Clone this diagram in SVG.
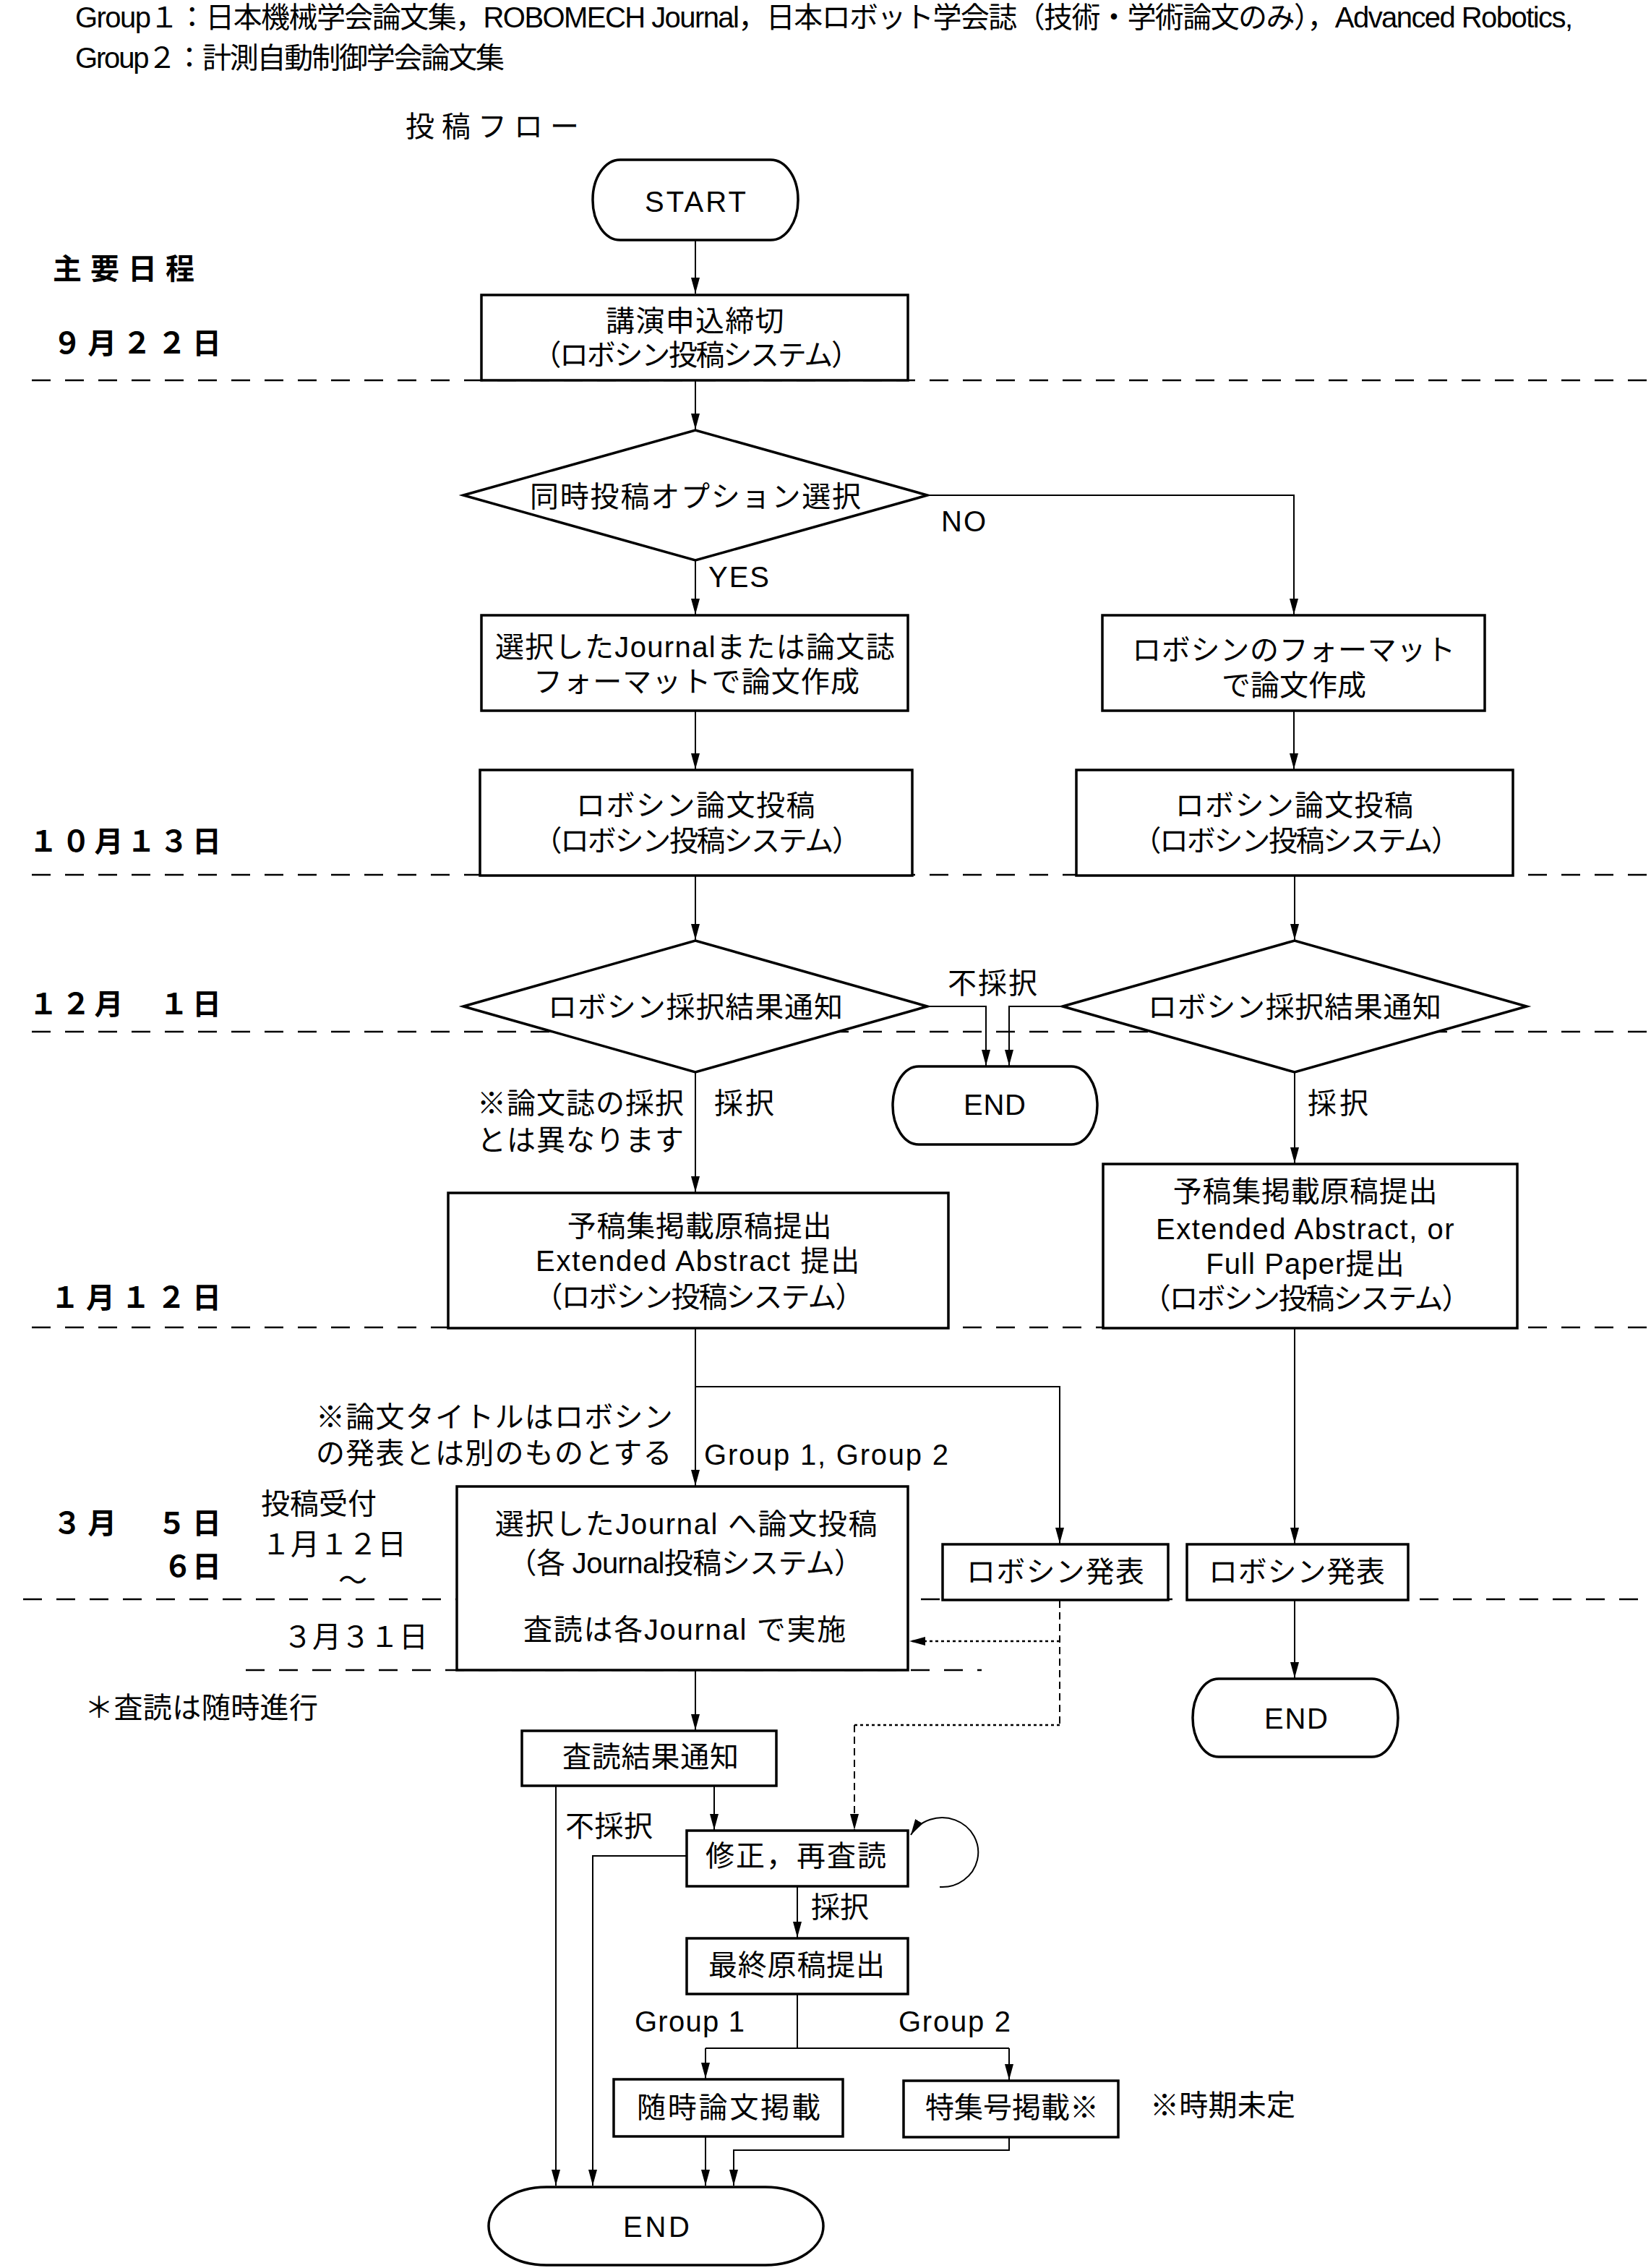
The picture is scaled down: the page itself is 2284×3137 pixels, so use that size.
<svg xmlns="http://www.w3.org/2000/svg" width="2284" height="3137" viewBox="0 0 2284 3137">
<defs>
<marker id="ah" markerUnits="userSpaceOnUse" markerWidth="22" markerHeight="12" viewBox="0 0 22 12" refX="22" refY="6" orient="auto"><path d="M0,0 L22,6 L0,12 z" fill="#000"/></marker>
<style>
.t{font-family:"Liberation Sans","Noto Sans CJK JP",sans-serif;font-size:40px;fill:#000;dominant-baseline:central;text-anchor:middle}
.l{text-anchor:start}
.b{font-weight:bold}
.n{fill:#fff;stroke:#000;stroke-width:3.5}
.c{fill:none;stroke:#000;stroke-width:2}
.a{marker-end:url(#ah)}
.d{fill:none;stroke:#000;stroke-width:2.5;stroke-dasharray:26 20}
.dt{fill:none;stroke:#000;stroke-width:2;stroke-dasharray:10 6}
.dp{fill:none;stroke:#000;stroke-width:2.5;stroke-dasharray:4 4}
</style>
</defs>
<rect x="0" y="0" width="2284" height="3137" fill="#fff"/>

<g id="header">
<text class="t l" x="104" y="24" font-size="34" textLength="2072">Group１：日本機械学会論文集，ROBOMECH Journal，日本ロボット学会誌（技術・学術論文のみ），Advanced Robotics,</text>
<text class="t l" x="104" y="80" font-size="34" textLength="594">Group２：計測自動制御学会論文集</text>
<text class="t" x="681" y="175" font-size="42" textLength="240">投稿フロー</text>
</g>

<g id="schedule">
<path class="d" d="M44 526H2284 M44 1210H2284 M44 1427H2284 M44 1836H2284 M32 2212H2284 M340 2310H1358"/>
<text class="t l b" x="73" y="372" textLength="196">主要日程</text>
<text class="t l b" x="73" y="475" textLength="233">９月２２日</text>
<text class="t l b" x="40" y="1164" textLength="266">１０月１３日</text>
<text class="t l b" x="40" y="1389" textLength="266">１２月　１日</text>
<text class="t l b" x="70" y="1795" textLength="236">１月１２日</text>
<text class="t l b" x="73" y="2107" textLength="233">３月　５日</text>
<text class="t l b" x="226" y="2167" textLength="80">６日</text>
<text class="t l"><tspan x="361" y="2080">投稿受付</tspan><tspan x="362" y="2136">１月１２日</tspan><tspan x="468" y="2186">～</tspan></text>
<text class="t l" x="392" y="2264" textLength="200">３月３１日</text>
<text class="t l" x="117" y="2362" textLength="323">＊査読は随時進行</text>
</g>

<g id="connectors">
<path class="c a" d="M962 332V406"/>
<path class="c a" d="M962 526V594"/>
<path class="c a" d="M962 776V850"/>
<path class="c a" d="M1283 685H1790V850"/>
<path class="c a" d="M962 983V1064"/>
<path class="c a" d="M1790 983V1064"/>
<path class="c a" d="M962 1212V1300"/>
<path class="c a" d="M1791 1212V1300"/>
<path class="c a" d="M1283 1392H1364V1474"/>
<path class="c a" d="M1470 1392H1396V1474"/>
<path class="c a" d="M962 1483V1649"/>
<path class="c a" d="M1791 1483V1609"/>
<path class="c a" d="M962 1838V2055"/>
<path class="c a" d="M962 1918H1466V2135"/>
<path class="c a" d="M1791 1837V2135"/>
<path class="c a" d="M1791 2214V2321"/>
<path class="c a" d="M962 2311V2393"/>
<path class="dt" d="M1466 2214V2386"/>
<path class="dp a" d="M1466 2270H1258"/>
<path class="dp" d="M1466 2386H1182"/>
<path class="dt a" d="M1182 2386V2531"/>
<path class="c a" d="M769 2471V3023"/>
<path class="c a" d="M988 2471V2531"/>
<path class="c a" d="M950 2567H820V3023"/>
<path class="c a" d="M1300 2610 A50 48 0 1 0 1260 2538"/>
<path class="c a" d="M1103 2609V2680"/>
<path class="c" d="M1103 2758V2833 M976 2833H1396"/>
<path class="c a" d="M976 2833V2875"/>
<path class="c a" d="M1396 2833V2877"/>
<path class="c a" d="M976 2955V3023"/>
<path class="c a" d="M1396 2956V2974H1015V3023"/>
<text class="t l" x="1302" y="721" textLength="62">NO</text>
<text class="t l" x="980" y="798" textLength="84">YES</text>
<text class="t" x="1373" y="1360" textLength="124">不採択</text>
<text class="t l"><tspan x="660" y="1526" letter-spacing="1">※論文誌の採択</tspan><tspan x="660" y="1577" letter-spacing="1">とは異なります</tspan></text>
<text class="t l" x="988" y="1526" textLength="83">採択</text>
<text class="t l" x="1809" y="1526" textLength="84">採択</text>
<text class="t l"><tspan x="437" y="1960" letter-spacing="1.25">※論文タイトルはロボシン</tspan><tspan x="437" y="2010" letter-spacing="1.25">の発表とは別のものとする</tspan></text>
<text class="t l" x="974" y="2012" textLength="338">Group 1, Group 2</text>
<text class="t l" x="782" y="2526" textLength="121">不採択</text>
<text class="t l" x="1122" y="2638" textLength="80">採択</text>
<text class="t l" x="878" y="2796" textLength="152">Group 1</text>
<text class="t l" x="1243" y="2796" textLength="155">Group 2</text>
<text class="t l" x="1591" y="2912" textLength="201">※時期未定</text>
</g>

<g id="n_start">
<rect class="n" x="820" y="221" width="284" height="111" rx="38" ry="55"/>
<text class="t" x="962" y="279" font-size="42" textLength="140">START</text>
</g>
<g id="n_apply">
<rect class="n" x="666" y="408" width="590" height="118"/>
<text class="t"><tspan x="962" y="444" letter-spacing="1.3">講演申込締切</tspan><tspan x="962" y="491" letter-spacing="-2.3">（ロボシン投稿システム）</tspan></text>
</g>
<g id="n_option">
<polygon class="n" points="641,685 962,595 1283,685 962,775"/>
<text class="t" x="962" y="687" textLength="458">同時投稿オプション選択</text>
</g>
<g id="n_format_journal">
<rect class="n" x="666" y="851" width="590" height="132"/>
<text class="t"><tspan x="962" y="895" letter-spacing="1.35">選択したJournalまたは論文誌</tspan><tspan x="964" y="943" letter-spacing="1.1">フォーマットで論文作成</tspan></text>
</g>
<g id="n_format_robosym">
<rect class="n" x="1525" y="851" width="529" height="132"/>
<text class="t"><tspan x="1790" y="899" letter-spacing="0.7">ロボシンのフォーマット</tspan><tspan x="1790" y="948">で論文作成</tspan></text>
</g>
<g id="n_submit_left">
<rect class="n" x="664" y="1065" width="598" height="146"/>
<text class="t"><tspan x="963" y="1114" letter-spacing="1.5">ロボシン論文投稿</tspan><tspan x="963" y="1163" letter-spacing="-2.3">（ロボシン投稿システム）</tspan></text>
</g>
<g id="n_submit_right">
<rect class="n" x="1489" y="1065" width="604" height="146"/>
<text class="t"><tspan x="1791" y="1114" letter-spacing="1.3">ロボシン論文投稿</tspan><tspan x="1792" y="1163" letter-spacing="-2.3">（ロボシン投稿システム）</tspan></text>
</g>
<g id="n_result_left">
<polygon class="n" points="641,1392 962,1301 1283,1392 962,1483"/>
<text class="t" x="962" y="1393" textLength="408">ロボシン採択結果通知</text>
</g>
<g id="n_result_right">
<polygon class="n" points="1470,1392 1791,1301 2112,1392 1791,1483"/>
<text class="t" x="1791" y="1393" textLength="406">ロボシン採択結果通知</text>
</g>
<g id="n_end1">
<rect class="n" x="1235" y="1475" width="283" height="108" rx="36" ry="54"/>
<text class="t" x="1376" y="1528" textLength="86">END</text>
</g>
<g id="n_abstract_left">
<rect class="n" x="620" y="1650" width="692" height="187"/>
<text class="t"><tspan x="968" y="1696" letter-spacing="0.7">予稿集掲載原稿提出</tspan><tspan x="966" y="1744" letter-spacing="1.7">Extended Abstract 提出</tspan><tspan x="966" y="1794" letter-spacing="-2">（ロボシン投稿システム）</tspan></text>
</g>
<g id="n_abstract_right">
<rect class="n" x="1526" y="1610" width="573" height="227"/>
<text class="t"><tspan x="1806" y="1648" letter-spacing="0.7">予稿集掲載原稿提出</tspan><tspan x="1806" y="1700" letter-spacing="1.5">Extended Abstract, or</tspan><tspan x="1806" y="1748" letter-spacing="1.1">Full Paper提出</tspan><tspan x="1806" y="1796" letter-spacing="-2.2">（ロボシン投稿システム）</tspan></text>
</g>
<g id="n_journal_submit">
<rect class="n" x="632" y="2056" width="624" height="254"/>
<text class="t"><tspan x="950" y="2108" letter-spacing="1.65">選択したJournal へ論文投稿</tspan><tspan x="948" y="2162" letter-spacing="-0.6">（各 Journal投稿システム）</tspan><tspan x="948" y="2254" letter-spacing="1.7">査読は各Journal で実施</tspan></text>
</g>
<g id="n_present_left">
<rect class="n" x="1304" y="2136" width="312" height="77"/>
<text class="t" x="1460" y="2174" textLength="246">ロボシン発表</text>
</g>
<g id="n_present_right">
<rect class="n" x="1642" y="2136" width="306" height="77"/>
<text class="t" x="1794" y="2174" textLength="244">ロボシン発表</text>
</g>
<g id="n_end2">
<rect class="n" x="1650" y="2322" width="284" height="108" rx="36" ry="54"/>
<text class="t" x="1793" y="2377" textLength="88">END</text>
</g>
<g id="n_review">
<rect class="n" x="722" y="2394" width="352" height="76"/>
<text class="t" x="900" y="2430" textLength="244">査読結果通知</text>
</g>
<g id="n_revise">
<rect class="n" x="950" y="2532" width="306" height="77"/>
<text class="t" x="1101" y="2567" textLength="250">修正，再査読</text>
</g>
<g id="n_final">
<rect class="n" x="950" y="2681" width="306" height="77"/>
<text class="t" x="1102" y="2718" textLength="244">最終原稿提出</text>
</g>
<g id="n_pub1">
<rect class="n" x="849" y="2876" width="317" height="79"/>
<text class="t" x="1008" y="2915" textLength="254">随時論文掲載</text>
</g>
<g id="n_pub2">
<rect class="n" x="1250" y="2878" width="297" height="78"/>
<text class="t" x="1400" y="2915" textLength="240">特集号掲載※</text>
</g>
<g id="n_end3">
<rect class="n" x="676" y="3025" width="463" height="108" rx="80" ry="54"/>
<text class="t" x="908" y="3080" textLength="92">END</text>
</g>
</svg>
